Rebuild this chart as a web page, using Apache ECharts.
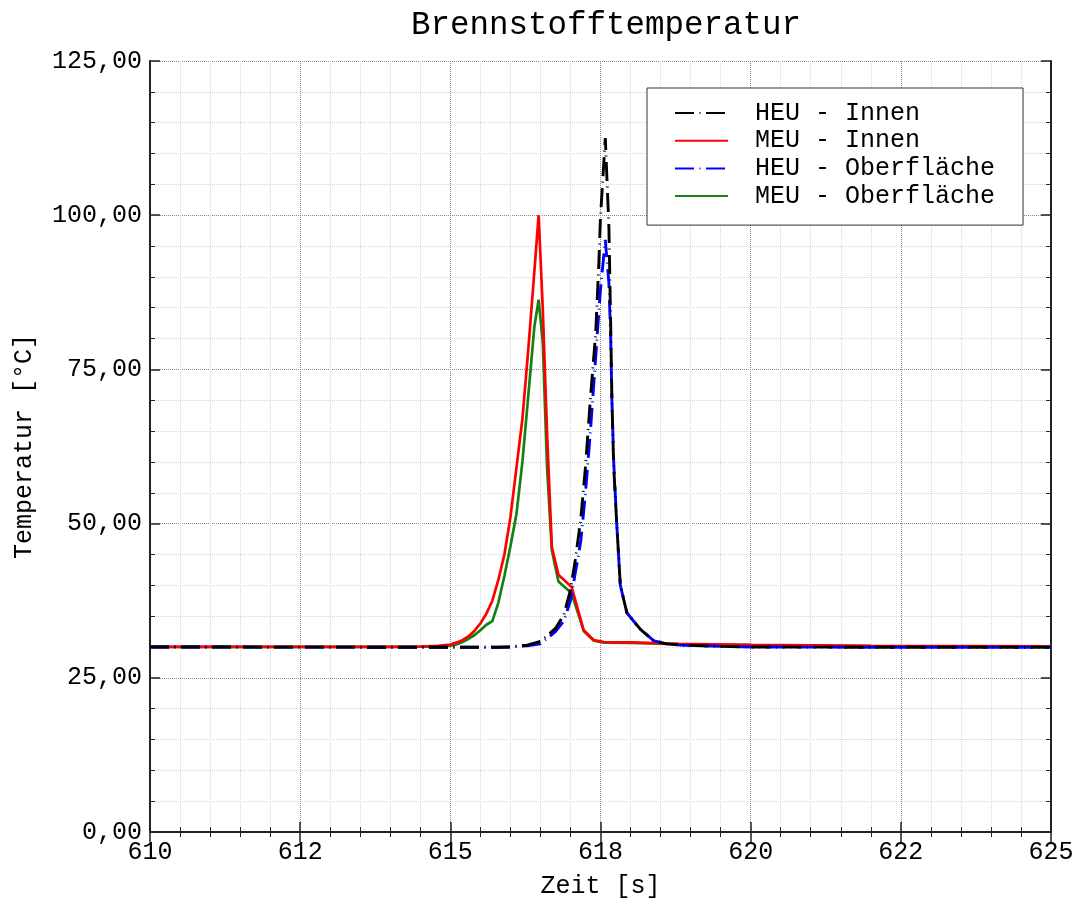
<!DOCTYPE html>
<html><head><meta charset="utf-8">
<script src="https://cdn.jsdelivr.net/npm/echarts@6/dist/echarts.min.js"></script>
<style>html,body{margin:0;padding:0;background:#fff}#c{width:1078px;height:899px}</style>
</head><body><div id="c"></div>
<script>
const xTickLabels = ['610','612','615','618','620','622','625'];
const yTickLabels = ['0,00','25,00','50,00','75,00','100,00','125,00'];

const meuTime = [610, 614, 614.5, 614.8, 615.0, 615.1, 615.2, 615.3, 615.4, 615.5, 615.6, 615.7, 615.8, 615.9, 616.0, 616.1, 616.2, 616.3, 616.4, 616.47, 616.54, 616.61, 616.69, 616.8, 617.02, 617.22, 617.39, 617.56, 618, 618.8, 620, 622, 625];
const meuInnen = [30, 30, 30.05, 30.2, 30.4, 30.7, 31.1, 31.7, 32.6, 33.8, 35.4, 37.5, 40.9, 45, 51, 59, 67, 78.5, 91, 100, 84.6, 64.7, 46.2, 41.7, 39.7, 32.7, 31.1, 30.8, 30.75, 30.5, 30.35, 30.2, 30.1];
const meuOber = [30, 30, 30.03, 30.1, 30.2, 30.4, 30.8, 31.3, 31.9, 32.7, 33.6, 34.2, 37.2, 41.5, 46.3, 51.5, 60, 71, 82, 86.3, 79.3, 59.2, 45.7, 40.6, 38.7, 32.6, 31.0, 30.7, 30.65, 30.45, 30.3, 30.15, 30.05];

const heuTime = [610, 615, 615.8, 616.0, 616.28, 616.5, 616.75, 616.89, 617.0, 617.08, 617.17, 617.25, 617.33, 617.42, 617.47, 617.5, 617.58, 617.64, 617.67, 617.69, 617.72, 617.77, 617.83, 617.94, 618.17, 618.39, 618.6, 618.83, 619.5, 620, 622, 625];
const heuInnen = [30, 29.95, 29.95, 30, 30.3, 30.9, 33.0, 35.2, 39.2, 44.1, 50.6, 59.2, 70, 80.9, 91.6, 99.7, 112.5, 98, 82, 70, 59.2, 50, 40, 35.5, 32.8, 31.0, 30.5, 30.3, 30.1, 30.0, 29.95, 29.95];
const heuOber = [30, 29.95, 29.95, 30, 30.2, 30.5, 32.5, 34.2, 37.5, 42, 47, 55, 64.7, 77, 84, 88, 96, 89, 80, 70, 60, 50, 40, 35.5, 32.8, 31.0, 30.5, 30.3, 30.1, 30.0, 29.95, 29.95];

const FONT = '"Liberation Mono", "DejaVu Sans Mono", monospace';
const pairs = (t, v) => t.map((x, i) => [x, v[i]]);

const chart = echarts.init(document.getElementById('c'));

const tickCommon = {
  axisLine: {show: true, lineStyle: {color: '#222', width: 2}},
  axisTick: {show: true, inside: true, length: 10, lineStyle: {color: '#222', width: 1.5}},
  minorTick: {show: true, splitNumber: 5, length: 5, lineStyle: {color: '#222', width: 1}}
};
const dash = [19, 5.5, 1, 5.5];

const option = {
  animation: false,
  backgroundColor: '#fff',
  title: {
    text: 'Brennstofftemperatur', left: 601, textAlign: 'center', top: 4,
    textStyle: {fontFamily: FONT, fontSize: 32.5, fontWeight: 'normal', color: '#000'}
  },
  grid: {left: 150, right: 27, top: 61, bottom: 67, outerBoundsMode: 'none', containLabel: false},
  legend: {
    orient: 'vertical', left: 647, top: 88,
    data: ['HEU - Innen', 'MEU - Innen', 'HEU - Oberfläche', 'MEU - Oberfläche'],
    backgroundColor: '#fff', borderColor: '#333', borderWidth: 1, borderRadius: 0,
    padding: [12.5, 28, 16.5, 27], itemWidth: 53, itemHeight: 14, itemGap: 2.7,
    itemStyle: {opacity: 0},
    textStyle: {fontFamily: FONT, fontSize: 25, color: '#000', padding: [0, 0, 0, 22]}
  },
  xAxis: [
    Object.assign({
      type: 'value', min: 610, max: 625, interval: 2.5,
      name: 'Zeit [s]', nameLocation: 'middle', nameGap: 42,
      nameTextStyle: {fontFamily: FONT, fontSize: 25, color: '#000'},
      axisLabel: {
        margin: 8, fontFamily: FONT, fontSize: 25, color: '#000',
        formatter: v => xTickLabels[Math.round((v - 610) / 2.5)]
      },
      splitLine: {show: true, lineStyle: {type: 'dotted', color: '#888', width: 1}},
      minorSplitLine: {show: true, lineStyle: {type: 'dotted', color: '#d8d8d8', width: 1}}
    }, tickCommon),
    Object.assign({
      type: 'value', min: 610, max: 625, interval: 2.5, position: 'top',
      axisLabel: {show: false}, splitLine: {show: false}
    }, tickCommon)
  ],
  yAxis: [
    Object.assign({
      type: 'value', min: 0, max: 125, interval: 25,
      name: 'Temperatur [°C]', nameLocation: 'middle', nameGap: 113,
      nameTextStyle: {fontFamily: FONT, fontSize: 25, color: '#000'},
      axisLabel: {
        margin: 8, fontFamily: FONT, fontSize: 25, color: '#000',
        formatter: v => yTickLabels[Math.round(v / 25)]
      },
      splitLine: {show: true, lineStyle: {type: 'dotted', color: '#888', width: 1}},
      minorSplitLine: {show: true, lineStyle: {type: 'dotted', color: '#d8d8d8', width: 1}}
    }, tickCommon),
    Object.assign({
      type: 'value', min: 0, max: 125, interval: 25, position: 'right',
      axisLabel: {show: false}, splitLine: {show: false}
    }, tickCommon)
  ],
  series: [
    {name: 'MEU - Oberfläche', type: 'line', showSymbol: false, symbol: 'none', data: pairs(meuTime, meuOber),
     color: '#128212', lineStyle: {color: '#128212', width: 2.7}},
    {name: 'MEU - Innen', type: 'line', showSymbol: false, symbol: 'none', data: pairs(meuTime, meuInnen),
     color: '#ff0000', lineStyle: {color: '#ff0000', width: 2.7}},
    {name: 'HEU - Oberfläche', type: 'line', showSymbol: false, symbol: 'none', data: pairs(heuTime, heuOber),
     color: '#0000ff', lineStyle: {color: '#0000ff', width: 2.9, type: dash}},
    {name: 'HEU - Innen', type: 'line', showSymbol: false, symbol: 'none', data: pairs(heuTime, heuInnen),
     color: '#000000', lineStyle: {color: '#000000', width: 2.9, type: dash}}
  ]
};
chart.setOption(option);
</script>
</body></html>
